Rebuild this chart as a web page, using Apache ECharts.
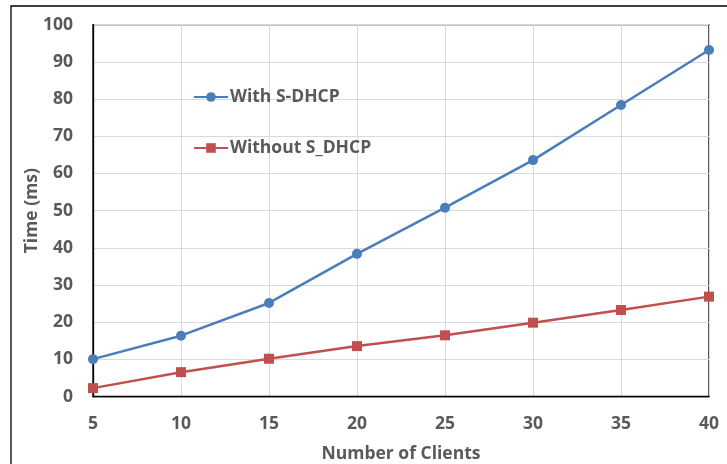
<!DOCTYPE html>
<html>
<head>
<meta charset="utf-8">
<script src="https://cdn.jsdelivr.net/npm/echarts@6/dist/echarts.min.js"></script>
<style>
  html, body { margin: 0; padding: 0; background: #fff; }
  #chart { width: 727px; height: 464px; }
</style>
</head>
<body>
<div id="chart"></div>
<script>
// Number of clients on the x axis
const clients = ['5', '10', '15', '20', '25', '30', '35', '40'];
// Time in ms for each configuration
const withSDHCP = [10.1, 16.4, 25.2, 38.4, 50.8, 63.6, 78.4, 93.2];
const withoutSDHCP = [2.3, 6.6, 10.2, 13.6, 16.5, 19.9, 23.3, 26.9];
const seriesNames = ['With S-DHCP', 'Without S_DHCP'];

const FONT = '"Open Sans", "Liberation Sans", sans-serif';
const TEXT = '#595959';
const FS = 17.5;

const chart = echarts.init(document.getElementById('chart'), null, { renderer: 'canvas' });

chart.setOption({
  animation: false,
  backgroundColor: '#ffffff',
  grid: {
    left: 93, right: 18, top: 24.7, bottom: 67.3,
    show: true, borderColor: '#000', borderWidth: 1.3,
    containLabel: false, outerBoundsMode: 'none'
  },
  graphic: [{
    type: 'rect',
    shape: { x: 11, y: 6, width: 760, height: 520 },
    style: { fill: 'none', stroke: '#000', lineWidth: 1.3 },
    silent: true, z: -1
  }],
  legend: {
    orient: 'vertical',
    left: 188,
    top: 83,
    itemGap: 33,
    itemWidth: 34,
    itemHeight: 12,
    textStyle: { fontFamily: FONT, fontWeight: 'bold', fontSize: FS, color: TEXT, padding: [0, 0, 0, -3] },
    data: seriesNames
  },
  xAxis: {
    type: 'category',
    data: clients,
    boundaryGap: false,
    name: 'Number of Clients',
    nameLocation: 'middle',
    nameGap: 48,
    nameMoveOverlap: false,
    nameTextStyle: { fontFamily: FONT, fontWeight: 'bold', fontSize: FS, color: TEXT },
    axisLine: { show: true, lineStyle: { color: '#000', width: 1.3 } },
    axisTick: { show: false },
    axisLabel: { fontFamily: FONT, fontWeight: 'bold', fontSize: FS, color: TEXT, margin: 18 },
    splitLine: { show: true, lineStyle: { color: '#d9d9d9', width: 1 } }
  },
  yAxis: {
    type: 'value',
    min: 0, max: 100, interval: 10,
    name: 'Time (ms)',
    nameLocation: 'middle',
    nameGap: 52,
    nameMoveOverlap: false,
    nameTextStyle: { fontFamily: FONT, fontWeight: 'bold', fontSize: FS, color: TEXT },
    axisLine: { show: true, lineStyle: { color: '#000', width: 1.3 } },
    axisTick: { show: false },
    axisLabel: { fontFamily: FONT, fontWeight: 'bold', fontSize: FS, color: TEXT, margin: 20 },
    splitLine: { show: true, lineStyle: { color: '#d9d9d9', width: 1 } }
  },
  series: [
    {
      name: seriesNames[0],
      type: 'line',
      data: withSDHCP,
      symbol: 'circle',
      symbolSize: 10,
      color: '#4a7ebb',
      lineStyle: { width: 2.5, color: '#4a7ebb' },
      itemStyle: { color: '#4a7ebb' }
    },
    {
      name: seriesNames[1],
      type: 'line',
      data: withoutSDHCP,
      symbol: 'rect',
      symbolSize: 10,
      color: '#c0504d',
      lineStyle: { width: 2.5, color: '#c0504d' },
      itemStyle: { color: '#c0504d' }
    }
  ]
});
</script>
</body>
</html>
